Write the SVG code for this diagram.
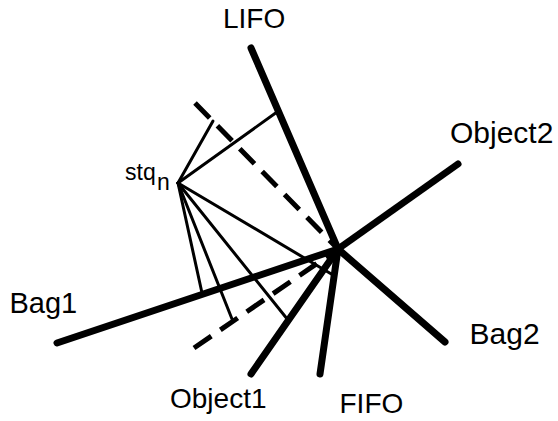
<svg xmlns="http://www.w3.org/2000/svg" width="558" height="421" viewBox="0 0 558 421">
<style>
.thick{stroke:#000;stroke-width:7;stroke-linecap:round;fill:none}
.thin{stroke:#000;stroke-width:3;stroke-linecap:round;fill:none}
.dash{stroke:#000;stroke-width:5;stroke-dasharray:21 11;stroke-linecap:butt;fill:none}
.lbl{font-family:"Liberation Sans",Arial,sans-serif;fill:#000}
</style>
<rect width="558" height="421" fill="#fff"/>
<g id="connectors">
<line class="thick" x1="251" y1="48" x2="338" y2="249"/>
<line class="thick" x1="338" y1="249" x2="458" y2="164"/>
<line class="thick" x1="338" y1="249" x2="445" y2="342"/>
<line class="thick" x1="57" y1="343" x2="338" y2="249"/>
<line class="thick" x1="338" y1="249" x2="251" y2="374"/>
<line class="thick" x1="338" y1="249" x2="320" y2="374"/>
<line class="dash" x1="195" y1="103" x2="338" y2="249"/>
<line class="dash" x1="194" y1="348" x2="338" y2="249"/>
<line class="thin" x1="178" y1="183" x2="213" y2="121"/>
<line class="thin" x1="178" y1="183" x2="277" y2="112"/>
<line class="thin" x1="178" y1="183" x2="333" y2="275"/>
<line class="thin" x1="178" y1="183" x2="202" y2="293"/>
<line class="thin" x1="178" y1="183" x2="232" y2="319"/>
<line class="thin" x1="178" y1="183" x2="288" y2="320"/>
</g>
<g id="node-LIFO"><text class="lbl" x="223" y="28" font-size="28">LIFO</text></g>
<g id="node-Object2"><text class="lbl" x="450" y="143" font-size="30">Object2</text></g>
<g id="node-Bag1"><text class="lbl" x="9.5" y="313" font-size="29">Bag1</text></g>
<g id="node-Bag2"><text class="lbl" x="469.5" y="344" font-size="30">Bag2</text></g>
<g id="node-Object1"><text class="lbl" x="170" y="408" font-size="28">Object1</text></g>
<g id="node-FIFO"><text class="lbl" x="339.5" y="413" font-size="28">FIFO</text></g>
<g id="node-stqn"><text class="lbl" x="125" y="180" font-size="23">stq<tspan x="157" y="190">n</tspan></text></g>
</svg>
